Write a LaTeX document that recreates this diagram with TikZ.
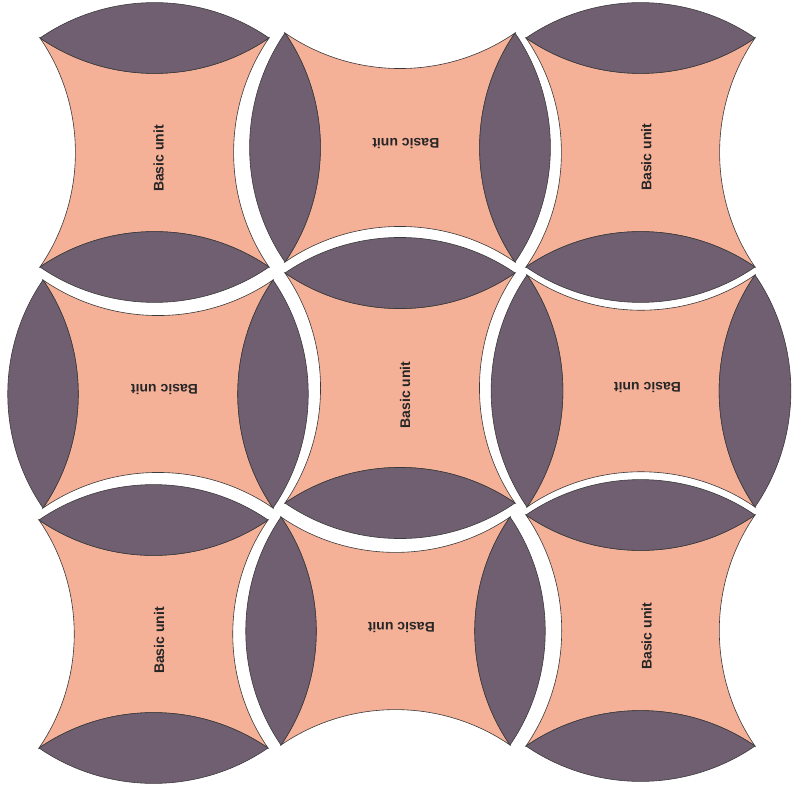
\documentclass[tikz,border=0pt]{standalone}
\usepackage{fontspec}
\setmainfont{Liberation Sans}
\definecolor{peach}{HTML}{F5B098}
\definecolor{plum}{HTML}{705F71}
\definecolor{edge}{HTML}{3A3A3A}
\tikzset{
  concave/.style={bend right=34.5, looseness=0.933},
  convex/.style={bend left=34.5, looseness=0.933},
  peachpart/.style={fill=peach, draw=edge, line width=0.6pt, line join=miter},
  lenspart/.style={fill=plum, draw=edge, line width=0.6pt},
  caption/.style={font=\bfseries\fontsize{14}{16}\selectfont, text=black!85, inner sep=0pt},
}
% unit with lenses on top and bottom
\newcommand\unitV[7]{%
  \coordinate (#1-tl) at (#2,#3);
  \coordinate (#1-tr) at (#4,#3);
  \coordinate (#1-br) at (#4,#5);
  \coordinate (#1-bl) at (#2,#5);
  \path[peachpart] (#1-tl) to[concave] (#1-tr) to[concave] (#1-br) to[concave] (#1-bl) to[concave] (#1-tl) -- cycle;
  \path[lenspart] (#1-tl) to[convex] (#1-tr) to[convex] (#1-tl) -- cycle;
  \path[lenspart] (#1-bl) to[convex] (#1-br) to[convex] (#1-bl) -- cycle;
  \node[caption, rotate=90] (#1-label) at (#6,#7) {Basic unit};
}
% unit with lenses on left and right
\newcommand\unitH[7]{%
  \coordinate (#1-tl) at (#2,#3);
  \coordinate (#1-tr) at (#4,#3);
  \coordinate (#1-br) at (#4,#5);
  \coordinate (#1-bl) at (#2,#5);
  \path[peachpart] (#1-tl) to[concave] (#1-tr) to[concave] (#1-br) to[concave] (#1-bl) to[concave] (#1-tl) -- cycle;
  \path[lenspart] (#1-tl) to[convex] (#1-bl) to[convex] (#1-tl) -- cycle;
  \path[lenspart] (#1-tr) to[convex] (#1-br) to[convex] (#1-tr) -- cycle;
  \node[caption, rotate=180] (#1-label) at (#6,#7) {Basic unit};
}
\begin{document}
\begin{tikzpicture}[x=1pt, y=-1pt]
  \useasboundingbox (0,0) rectangle (792,794);
  \unitV{u11}{40}{38}{269}{267}{158.7}{158.5}
  \unitH{u12}{285}{33}{515}{262}{405.8}{144}
  \unitV{u13}{526}{38}{755}{267}{646.3}{157.3}
  \unitH{u21}{43}{280}{273}{508}{164.5}{389.7}
  \unitV{u22}{285}{273}{515}{503}{405}{395}
  \unitH{u23}{527}{275}{755}{507}{647.5}{387.8}
  \unitV{u31}{39}{520}{268}{748}{159.2}{640.5}
  \unitH{u32}{281}{517}{510}{745}{401.3}{627.2}
  \unitV{u33}{526}{515}{755}{746}{646.7}{636.3}
\end{tikzpicture}
\end{document}
